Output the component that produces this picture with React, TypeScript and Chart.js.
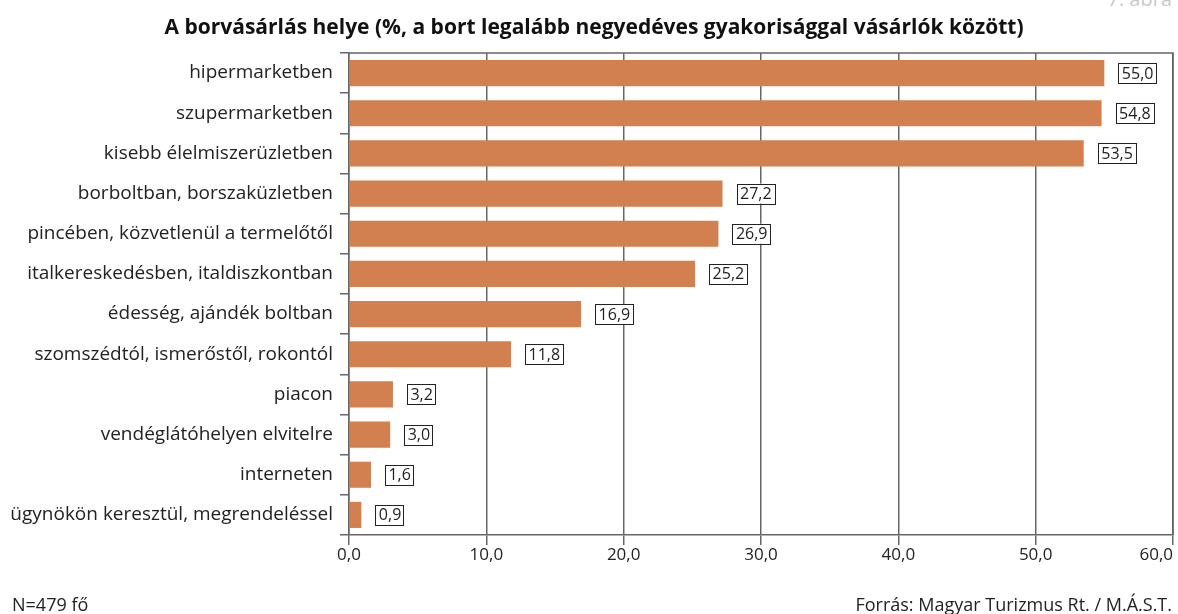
import React, { useEffect, useRef } from "react";
import { Chart, registerables } from "chart.js";

Chart.register(...registerables);

const categories = [
  "hipermarketben",
  "szupermarketben",
  "kisebb élelmiszerüzletben",
  "borboltban, borszaküzletben",
  "pincében, közvetlenül a termelőtől",
  "italkereskedésben, italdiszkontban",
  "édesség, ajándék boltban",
  "szomszédtól, ismerőstől, rokontól",
  "piacon",
  "vendéglátóhelyen elvitelre",
  "interneten",
  "ügynökön keresztül, megrendeléssel",
];
const values = [55.0, 54.8, 53.5, 27.2, 26.9, 25.2, 16.9, 11.8, 3.2, 3.0, 1.6, 0.9];
const xTickValues = [0, 10, 20, 30, 40, 50, 60];
const title = "A borvásárlás helye (%, a bort legalább negyedéves gyakorisággal vásárlók között)";
const noteLeft = "N=479 fő";
const noteRight = "Forrás: Magyar Turizmus Rt. / M.Á.S.T.";
const figLabel = "7. ábra";

const FONT = "'Open Sans', 'Noto Sans', sans-serif";
const fmt = (v: number) => v.toFixed(1).replace(".", ",");

export default function App() {
  const ref = useRef<HTMLCanvasElement | null>(null);
  useEffect(() => {
    if (!ref.current) return;
    const overlay = {
      id: "overlay",
      afterDraw(chart: any) {
        const ctx = chart.ctx;
        const area = chart.chartArea;
        const xs = chart.scales.x;
        ctx.save();
        // frame top/right
        ctx.strokeStyle = "#666";
        ctx.lineWidth = 1.5;
        ctx.beginPath();
        ctx.moveTo(area.left, area.top);
        ctx.lineTo(area.right, area.top);
        ctx.lineTo(area.right, area.bottom);
        ctx.stroke();
        // value boxes
        const meta = chart.getDatasetMeta(0);
        ctx.font = `16px ${FONT}`;
        ctx.textBaseline = "middle";
        ctx.textAlign = "center";
        meta.data.forEach((bar: any, i: number) => {
          const txt = fmt(values[i]);
          const w = ctx.measureText(txt).width + 6;
          const h = 20;
          const x0 = bar.x + 14;
          const y0 = bar.y - h / 2;
          ctx.fillStyle = "#fff";
          ctx.fillRect(x0, y0, w, h);
          ctx.strokeStyle = "#222";
          ctx.lineWidth = 1;
          ctx.strokeRect(Math.round(x0) + 0.5, Math.round(y0) + 0.5, Math.round(w), h);
          ctx.fillStyle = "#222";
          ctx.fillText(txt, x0 + w / 2 + 0.5, bar.y + 1);
        });
        // x tick labels
        ctx.font = `17px ${FONT}`;
        ctx.fillStyle = "#222";
        ctx.textBaseline = "top";
        xTickValues.forEach((v, i) => {
          const px = xs.getPixelForValue(v);
          const last = i === xTickValues.length - 1;
          ctx.textAlign = last ? "right" : "center";
          ctx.fillText(fmt(v), px, area.bottom + 12);
        });
        // title
        ctx.font = `bold 21px ${FONT}`;
        ctx.textAlign = "center";
        ctx.textBaseline = "alphabetic";
        ctx.fillStyle = "#111";
        ctx.fillText(title, 594, 34);
        // fig label
        ctx.font = `20px ${FONT}`;
        ctx.textAlign = "right";
        ctx.fillStyle = "#c8c8c8";
        ctx.fillText(figLabel, 1172, 6);
        // footers
        ctx.font = `18px ${FONT}`;
        ctx.fillStyle = "#222";
        ctx.textAlign = "left";
        ctx.fillText(noteLeft, 12, 611);
        ctx.textAlign = "right";
        ctx.fillText(noteRight, 1172, 611);
        ctx.restore();
      },
    };
    const chart = new Chart(ref.current, {
      type: "bar",
      data: {
        labels: categories,
        datasets: [
          {
            data: values,
            backgroundColor: "#d2804f",
            borderWidth: 0,
            categoryPercentage: 1,
            barPercentage: 0.65,
          },
        ],
      },
      options: {
        indexAxis: "y",
        animation: false,
        responsive: false,
        devicePixelRatio: 1,
        layout: { padding: { top: 53, right: 5, left: 0, bottom: 0 } },
        plugins: { legend: { display: false }, tooltip: { enabled: false }, title: { display: false } },
        scales: {
          x: {
            min: 0,
            max: 60,
            ticks: { stepSize: 10, display: false },
            grid: { color: "#666", lineWidth: 1.5, tickLength: 10, drawOnChartArea: true, drawTicks: true },
            border: { display: true, color: "#666", width: 1.5 },
            afterFit: (s: any) => {
              s.height = 79;
            },
          },
          y: {
            ticks: { color: "#222", padding: 7, font: { size: 19, family: FONT } },
            grid: { color: "#666", lineWidth: 1.5, tickLength: 9, drawOnChartArea: false, offset: true },
            border: { display: true, color: "#666", width: 1.5 },
            afterFit: (s: any) => {
              s.width = 349;
            },
          },
        },
      },
      plugins: [overlay],
    } as any);
    return () => chart.destroy();
  }, []);
  return (
    <div style={{ position: "absolute", left: 0, top: 0, width: 1178, height: 614, background: "#fff" }}>
      <canvas ref={ref} width={1178} height={614} style={{ display: "block", width: 1178, height: 614 }} />
    </div>
  );
}
